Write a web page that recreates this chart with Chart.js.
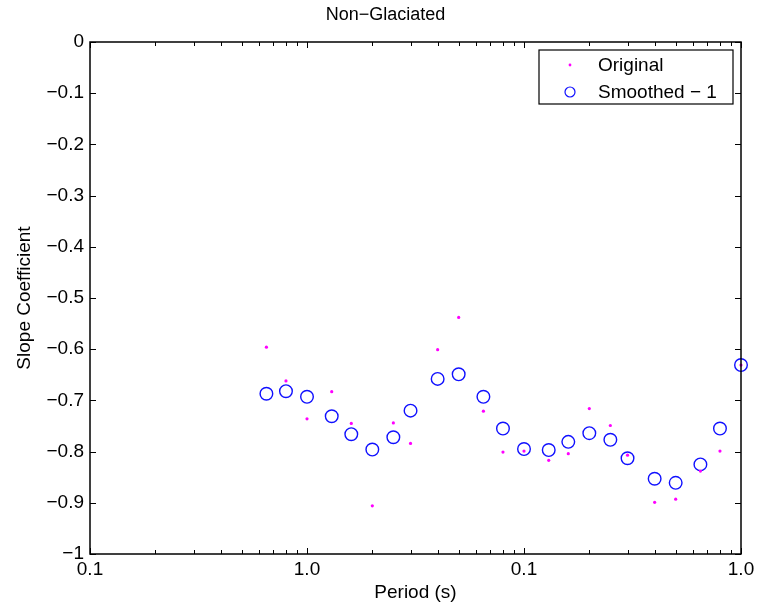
<!DOCTYPE html>
<html>
<head>
<meta charset="utf-8">
<title>Non-Glaciated</title>
<script src="https://cdn.jsdelivr.net/npm/chart.js@4.4.1/dist/chart.umd.min.js"></script>
<style>
  html, body { margin: 0; padding: 0; background: #fff; }
  #wrap { width: 768px; height: 610px; position: relative; }
</style>
</head>
<body>
<div id="wrap"><canvas id="slopeChart"></canvas></div>
<script>
// Period values (s)
const periods = [0.065, 0.08, 0.1, 0.13, 0.16, 0.2, 0.25, 0.3, 0.4, 0.5, 0.65, 0.8,
                 1, 1.3, 1.6, 2, 2.5, 3, 4, 5, 6.5, 8, 10];
const original = [-0.596, -0.662, -0.736, -0.683, -0.745, -0.906, -0.744, -0.784, -0.601, -0.538,
                  -0.721, -0.801, -0.799, -0.817, -0.804, -0.716, -0.749, -0.807, -0.899, -0.893,
                  -0.838, -0.799, -0.631];
const smoothed = [-0.687, -0.682, -0.693, -0.731, -0.766, -0.796, -0.772, -0.720, -0.658, -0.649,
                  -0.693, -0.755, -0.795, -0.797, -0.781, -0.764, -0.777, -0.813, -0.853, -0.861,
                  -0.825, -0.755, -0.631];
const xTickValues = [0.01, 0.1, 1, 10];
const xTickLabels = ['0.1', '1.0', '0.1', '1.0'];
const yTickLabels = ['\u22121', '\u22120.9', '\u22120.8', '\u22120.7', '\u22120.6', '\u22120.5',
                     '\u22120.4', '\u22120.3', '\u22120.2', '\u22120.1', '0'];

const FONT = '"Liberation Sans", Arial, Helvetica, sans-serif';
Chart.defaults.font.family = FONT;
Chart.defaults.font.size = 19;
Chart.defaults.color = '#000';

// box, inward ticks (matlab style) and the legend
const axesBox = {
    id: 'axesBox',
    afterDatasetsDraw(chart) {
        const ctx = chart.ctx;
        const a = chart.chartArea;
        const xs = chart.scales.x, ys = chart.scales.y;
        ctx.save();
        ctx.strokeStyle = '#000';
        ctx.lineWidth = 1;
        ctx.beginPath();
        // y ticks, left and right
        ys.ticks.forEach(t => {
            const py = Math.round(ys.getPixelForValue(t.value)) + 0.5;
            ctx.moveTo(a.left, py); ctx.lineTo(a.left + 6, py);
            ctx.moveTo(a.right, py); ctx.lineTo(a.right - 6, py);
        });
        // x ticks, majors and log minors, bottom and top
        for (let d = 0.01; d < 10; d *= 10) {
            for (let m = 1; m <= 10; m++) {
                const v = d * m;
                const px = Math.round(xs.getPixelForValue(v)) + 0.5;
                const len = (m === 1 || m === 10) ? 6 : 4;
                ctx.moveTo(px, a.bottom); ctx.lineTo(px, a.bottom - len);
                ctx.moveTo(px, a.top); ctx.lineTo(px, a.top + len);
            }
        }
        ctx.stroke();
        ctx.lineWidth = 1.5;
        ctx.strokeRect(a.left, a.top, a.right - a.left, a.bottom - a.top);

        // legend
        const lx = 539, ly = 50, lw = 194, lh = 54;
        ctx.fillStyle = '#fff';
        ctx.fillRect(lx, ly, lw, lh);
        ctx.lineWidth = 1.2;
        ctx.strokeRect(lx, ly, lw, lh);
        ctx.font = '19px ' + FONT;
        ctx.textBaseline = 'middle';
        ctx.textAlign = 'left';
        chart.data.datasets.forEach((ds, i) => {
            const cy = ly + 15 + i * 27;
            ctx.beginPath();
            if (ds.pointBorderWidth === 0) {
                ctx.fillStyle = ds.pointBackgroundColor;
                ctx.arc(lx + 31, cy, 1.4, 0, Math.PI * 2);
                ctx.fill();
            } else {
                ctx.strokeStyle = ds.pointBorderColor;
                ctx.lineWidth = 1.2;
                ctx.arc(lx + 31, cy, 5, 0, Math.PI * 2);
                ctx.stroke();
            }
            ctx.fillStyle = '#000';
            ctx.fillText(ds.label, lx + 59, cy + 1);
        });
        ctx.restore();
    }
};

new Chart(document.getElementById('slopeChart'), {
    type: 'scatter',
    data: {
        datasets: [
            {
                label: 'Original',
                data: periods.map((p, i) => ({ x: p, y: original[i] })),
                pointRadius: 1.6,
                pointBorderWidth: 0,
                pointBackgroundColor: '#ff00ff',
                pointBorderColor: '#ff00ff',
                clip: false
            },
            {
                label: 'Smoothed \u2212 1',
                data: periods.map((p, i) => ({ x: p, y: smoothed[i] })),
                pointRadius: 6.3,
                pointBorderWidth: 1.4,
                pointBackgroundColor: 'rgba(0,0,0,0)',
                pointBorderColor: '#1010ff',
                clip: false
            }
        ]
    },
    options: {
        responsive: true,
        maintainAspectRatio: false,
        animation: false,
        events: [],
        layout: { padding: { left: 30, right: 27, top: 0, bottom: 0 } },
        plugins: {
            legend: { display: false },
            tooltip: { enabled: false },
            title: {
                display: true,
                text: 'Non\u2212Glaciated',
                font: { size: 18, weight: 'normal' },
                color: '#000',
                padding: { top: 4.2, bottom: 16.2 }
            }
        },
        scales: {
            x: {
                type: 'logarithmic',
                min: 0.01,
                max: 10,
                afterBuildTicks: scale => {
                    scale.ticks = xTickValues.map(v => ({ value: v, major: true }));
                },
                afterFit: scale => { scale.height = 56; },
                ticks: {
                    autoSkip: false,
                    maxRotation: 0,
                    padding: 4,
                    callback: (value, index) => xTickLabels[index]
                },
                grid: { display: false, drawTicks: false },
                border: { display: false },
                title: {
                    display: true,
                    text: 'Period (s)',
                    padding: { top: 0, bottom: 5.6 }
                }
            },
            y: {
                min: -1,
                max: 0,
                afterBuildTicks: scale => {
                    scale.ticks = yTickLabels.map((l, i) => ({ value: -1 + i * 0.1 }));
                },
                afterFit: scale => { scale.width = 60; },
                ticks: {
                    padding: 6,
                    callback: (value, index) => yTickLabels[index]
                },
                grid: { display: false, drawTicks: false },
                border: { display: false },
                title: {
                    display: true,
                    text: 'Slope Coefficient',
                    padding: { top: -16.4, bottom: 0 }
                }
            }
        }
    },
    plugins: [axesBox]
});
</script>
</body>
</html>
